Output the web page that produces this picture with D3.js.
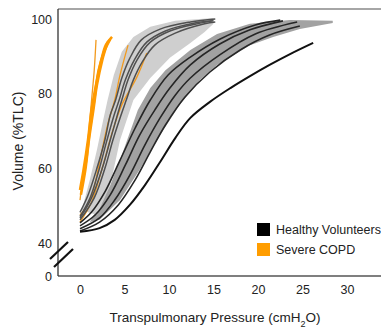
<!DOCTYPE html>
<html>
<head>
<meta charset="utf-8">
<script src="https://cdn.jsdelivr.net/npm/d3@7"></script>
<style>
  body { margin: 0; background: #fff; }
  svg { display: block; font-family: "Liberation Sans", Arial, sans-serif; }
</style>
</head>
<body>
<div id="chart"></div>
<script>
const xTicks = [0, 5, 10, 15, 20, 25, 30];
const yTicks = [40, 60, 80, 100];
const legendLabels = ["Healthy Volunteers", "Severe COPD"];

// [pressure cmH2O, volume %TLC]
const healthyLeft = [
  [[0,48.2],[0.9,52.8],[1.9,60],[2.8,67.6],[3.4,74.3],[4,78.3],[4.7,84.2],[5.6,89.5],[6.9,94.4],[9,97.3],[12.4,99.2],[15.2,100]],
  [[0,47.1],[1.1,51.9],[2.1,59.3],[3,67.3],[3.8,74],[4.4,78.3],[5.1,83.7],[6.1,89],[7.5,93.8],[9.6,96.8],[12.9,98.9],[15,99.5]],
  [[0,46.7],[1.3,52.1],[2.5,60],[3.4,67.6],[4.2,74.3],[4.7,78.3],[5.4,83.7],[6.4,89],[7.9,93.8],[10.1,96.8],[13.5,98.9],[14.8,99.5]],
  [[0,46.2],[1.6,52.1],[2.8,60],[3.7,67.6],[4.5,73.5],[5.2,78.3],[6,83.7],[7,88.5],[8.4,93],[10.7,96.2],[14,98.7],[15.2,99.2]]
];
const healthyMid = [
  [[0,44.6],[1.7,47.5],[3.4,52.9],[5.1,60.9],[6.7,68.9],[8.4,75.6],[10.1,81.5],[12.4,87.7],[15.7,93.3],[19.1,97.1],[22.8,99.5]],
  [[0,43.8],[2.2,46.7],[3.9,51.5],[5.6,58.2],[7.3,66.3],[9,73.5],[10.7,79.6],[12.4,84.2],[15.7,90.4],[19.7,96],[24.4,99.2]],
  [[0,45.4],[1.3,48.3],[2.8,53.7],[4.5,62.2],[6.2,70.8],[7.9,78.3],[9.9,85],[12.4,89.8],[15.7,94.6],[19.7,98.4],[22.5,99.7]],
  [[0,43.2],[2.2,45.6],[4.3,50.2],[6.2,56.9],[7.9,64.4],[9.6,71.6],[11.8,79.1],[14.6,85.8],[18,91.7],[21.3,95.7],[24.7,98.1]]
];
const healthyRight = [[0,43],[2.2,44],[3.9,46.2],[5.6,50.2],[7.3,55.5],[9,61.7],[10.7,68.1],[12.4,73.5],[14.6,77.8],[16.9,81.5],[19.1,84.7],[21.3,87.7],[23.6,90.6],[26.2,93.6]];

const copdThick = [
  [[0,54.2],[0.4,59.6],[0.9,67.6],[1.3,75.6],[1.8,82.3],[2.4,89],[2.9,93],[3.6,95.2]],
  [[0.1,52.9],[0.6,59.6],[1,67.6],[1.5,75.6],[1.9,82.3],[2.5,89],[3.1,93.8]],
  [[0.2,55.5],[0.7,62.2],[1.1,70.3],[1.6,78.3],[2.1,86.3],[2.7,91.2],[3.4,94.6]]
];
const copdThin = [
  [[0,51.5],[0.3,56.9],[0.7,62.2],[1,70.3],[1.3,78.3],[1.6,86.3],[1.8,94.4]],
  [[0,47.5],[0.7,49.6],[1.5,54.2],[2.2,61.7],[3.1,71.6],[3.9,78.3],[4.5,85],[5.4,93]],
  [[0,45.6],[1.3,51],[2.6,60.9],[3.7,70.3],[4.7,77],[6.4,84.5],[7.5,90.9]]
];

// shaded ranges: upper-left edge, then lower-right edge
const bandLeftUpper = [[0.2,48.8],[1.1,56.9],[1.9,64.9],[2.6,72.9],[3.1,78.3],[3.8,85],[4.7,91.2],[6,95.2],[7.9,97.9],[10.7,99.5],[15,100.3]];
const bandLeftLower = [[1.9,47.5],[3.4,55.5],[4.5,67.6],[6,78.3],[7.9,84.2],[10.1,89.6],[12.4,93.6],[14,96.5],[15,98.7]];
const bandMidUpper = [[1.1,45.6],[2.2,50.2],[3.4,55.5],[4.5,62.2],[5.3,67.6],[6.5,75.6],[7.9,81.5],[9.6,86.3],[12.4,91.7],[15.4,96],[19.1,98.7],[23.6,99.7],[28.4,99.5]];
const bandMidLower = [[2.2,46.2],[4.5,51.5],[6.7,59.6],[9,68.9],[11.2,77],[13.5,83.7],[15.4,87.7],[19.1,93],[21.7,95.2],[24.7,97.3],[28.4,98.9]];

const width = 381, height = 329;
const plotLeft = 58, plotTop = 9, plotBottom = 276;

const svg = d3.select("#chart").append("svg")
  .attr("width", width)
  .attr("height", height);

const x = d3.scaleLinear().domain([0, 30]).range([80, 347]);
const y = d3.scaleLinear().domain([40, 100]).range([243, 19]);

const line = d3.line()
  .x(d => x(d[0]))
  .y(d => y(d[1]))
  .curve(d3.curveCatmullRom);

const band = d3.line()
  .x(d => x(d[0]))
  .y(d => y(d[1]))
  .curve(d3.curveLinearClosed);

svg.append("path")
  .attr("d", band(bandMidUpper.concat(bandMidLower.slice().reverse())))
  .attr("fill", "#a2a2a2");

svg.append("path")
  .attr("d", band(bandLeftUpper.concat(bandLeftLower.slice().reverse())))
  .attr("fill", "#cfcfcf");

svg.append("g").selectAll("path")
  .data(copdThin)
  .join("path")
  .attr("d", line)
  .attr("fill", "none")
  .attr("stroke", "#f29a1e")
  .attr("stroke-width", 1.3);

svg.append("g").selectAll("path")
  .data(healthyLeft)
  .join("path")
  .attr("d", line)
  .attr("fill", "none")
  .attr("stroke", "#505050")
  .attr("stroke-width", 1.5);

svg.append("g").selectAll("path")
  .data(healthyMid)
  .join("path")
  .attr("d", line)
  .attr("fill", "none")
  .attr("stroke", "#262626")
  .attr("stroke-width", 1.6);

svg.append("path")
  .attr("d", line(healthyRight))
  .attr("fill", "none")
  .attr("stroke", "#111")
  .attr("stroke-width", 2);

svg.append("g").selectAll("path")
  .data(copdThick)
  .join("path")
  .attr("d", line)
  .attr("fill", "none")
  .attr("stroke", "#ff9a00")
  .attr("stroke-width", 2.6);

// frame
svg.append("line")
  .attr("x1", plotLeft).attr("x2", width)
  .attr("y1", plotTop).attr("y2", plotTop)
  .attr("stroke", "#888").attr("stroke-width", 1.5);
svg.append("line")
  .attr("x1", plotLeft).attr("x2", width)
  .attr("y1", plotBottom).attr("y2", plotBottom)
  .attr("stroke", "#555").attr("stroke-width", 1.5);
svg.append("line")
  .attr("x1", plotLeft).attr("x2", plotLeft)
  .attr("y1", plotTop).attr("y2", plotBottom)
  .attr("stroke", "#333").attr("stroke-width", 1.3);

// axis break
[[50, 259, 68, 242], [54, 267, 73, 249]].forEach(s => {
  svg.append("line")
    .attr("x1", s[0]).attr("y1", s[1])
    .attr("x2", s[2]).attr("y2", s[3])
    .attr("stroke", "#111").attr("stroke-width", 2.2);
});

const xAxis = svg.append("g")
  .attr("transform", `translate(0,${plotBottom})`)
  .call(d3.axisBottom(x).tickValues(xTicks).tickSize(0).tickPadding(9));
xAxis.select(".domain").remove();
xAxis.selectAll("text")
  .style("font-family", "Liberation Sans, Arial, sans-serif")
  .style("font-size", "12.5px")
  .attr("fill", "#222");

const yAxis = svg.append("g")
  .attr("transform", `translate(${plotLeft},0)`)
  .call(d3.axisLeft(y).tickValues(yTicks).tickSize(0).tickPadding(6));
yAxis.select(".domain").remove();
yAxis.selectAll("text")
  .style("font-family", "Liberation Sans, Arial, sans-serif")
  .style("font-size", "12.5px")
  .attr("fill", "#222");

svg.append("text")
  .attr("x", plotLeft - 6)
  .attr("y", plotBottom + 5)
  .attr("text-anchor", "end")
  .style("font-size", "12.5px")
  .attr("fill", "#222")
  .text("0");

svg.append("text")
  .attr("x", 215)
  .attr("y", 322)
  .attr("text-anchor", "middle")
  .style("font-size", "13.5px")
  .attr("fill", "#222")
  .text("Transpulmonary Pressure (cmH")
  .call(t => {
    t.append("tspan").attr("baseline-shift", "sub").style("font-size", "9px").text("2");
    t.append("tspan").text("O)");
  });

svg.append("text")
  .attr("transform", "translate(23,141) rotate(-90)")
  .attr("text-anchor", "middle")
  .style("font-size", "14px")
  .attr("fill", "#222")
  .text("Volume (%TLC)");

const legendColors = ["#000", "#ff9d00"];
const legend = svg.append("g").attr("transform", "translate(257,223)");
legendLabels.forEach((label, i) => {
  const g = legend.append("g").attr("transform", `translate(0,${i * 20})`);
  g.append("rect")
    .attr("width", 13)
    .attr("height", 13)
    .attr("fill", legendColors[i]);
  g.append("text")
    .attr("x", 19)
    .attr("y", 10.5)
    .style("font-size", "12.5px")
    .attr("fill", "#222")
    .text(label);
});
</script>
</body>
</html>
